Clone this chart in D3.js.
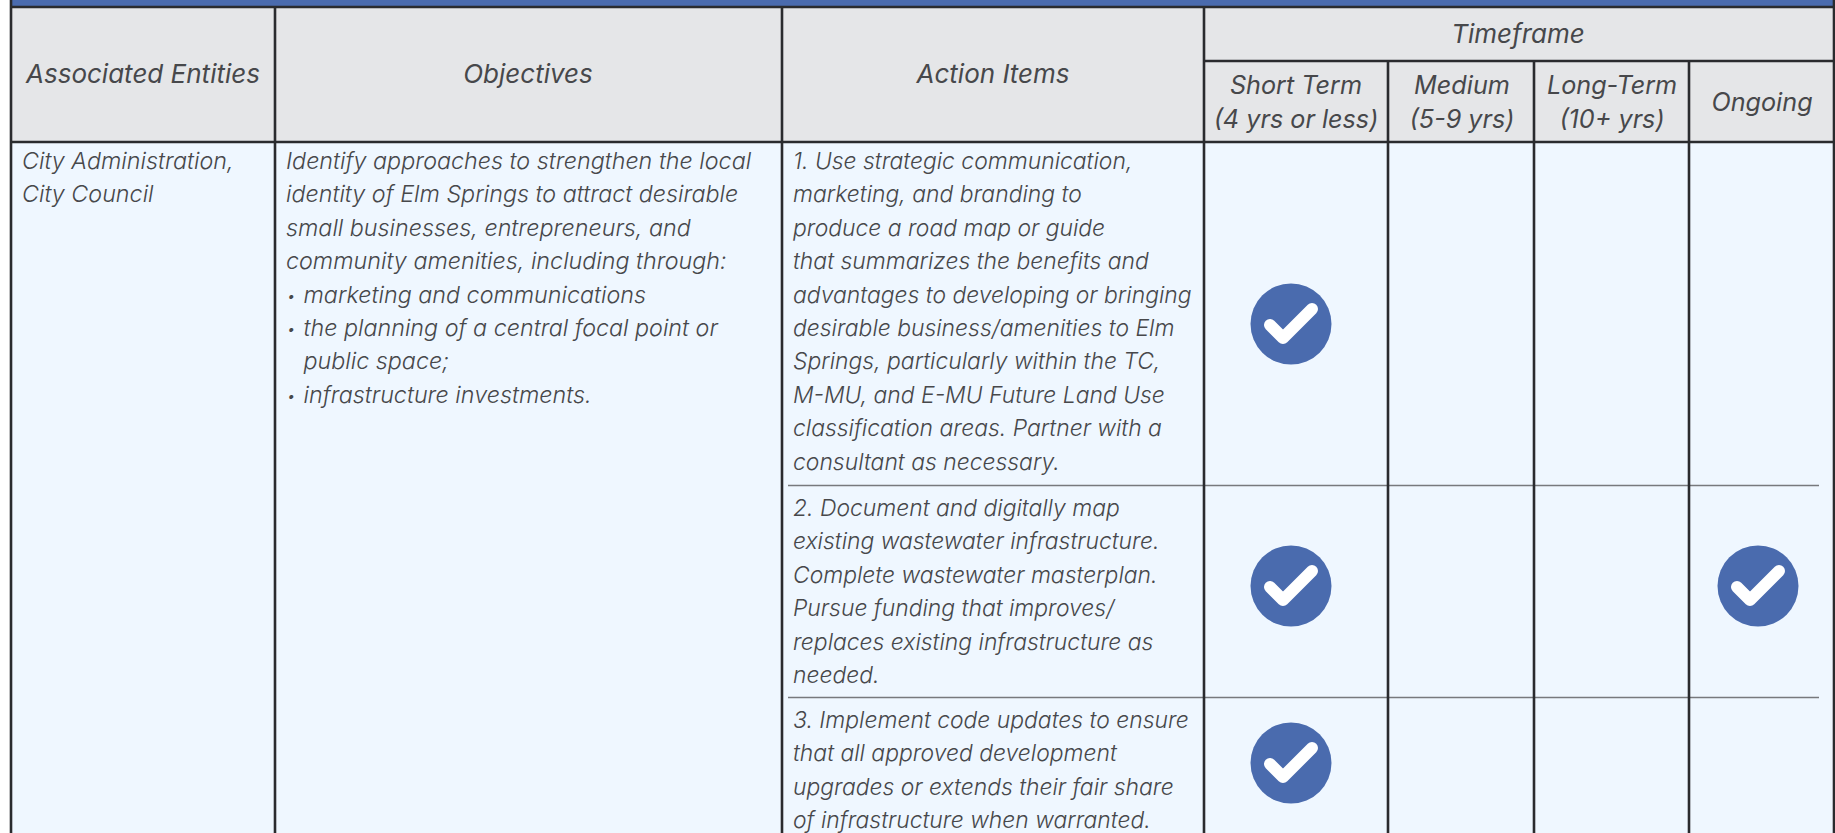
<!DOCTYPE html>
<html lang="en">
<head>
    <meta charset="UTF-8">
    <script src="https://cdn.jsdelivr.net/npm/d3@7"></script>
    <style>
        html,body{margin:0;padding:0;background:#fff;overflow:hidden;}
        svg{display:block;}
        text{font-family:Inter,Lato,sans-serif;font-style:italic;fill:#47484b;}
        .body-text{font-size:23.3px;font-weight:300;}
        .action-text{font-size:22.9px;}
        .bullet{font-size:15px;font-weight:300;}
        .head-text{font-size:26px;font-weight:400;}
        .time-text{font-size:25.2px;}
    </style>
    <title>Implementation table</title>
</head>
<body>
    <svg width="1835" height="833"></svg>
    <script>
        // table content
        var mainHeaders = ["Associated Entities", "Objectives", "Action Items"];
        var groupHeader = "Timeframe";
        var timeframes = ["short", "medium", "long", "ongoing"];
        var timeframeLabels = [["Short Term", "(4 yrs or less)"], ["Medium", "(5-9 yrs)"], ["Long-Term", "(10+ yrs)"], ["Ongoing"]];
        var entityLines = ["City Administration,", "City Council"];
        var objectiveLines = [
            "Identify approaches to strengthen the local",
            "identity of Elm Springs to attract desirable",
            "small businesses, entrepreneurs, and",
            "community amenities, including through:"
        ];
        var objectiveBullets = [
            ["marketing and communications"],
            ["the planning of a central focal point or", "public space;"],
            ["infrastructure investments."]
        ];
        var actionItems = [
            ["1. Use strategic communication,", "marketing, and branding to", "produce a road map or guide",
             "that summarizes the benefits and", "advantages to developing or bringing",
             "desirable business/amenities to Elm", "Springs, particularly within the TC,",
             "M-MU, and E-MU Future Land Use", "classification areas. Partner with a", "consultant as necessary."],
            ["2. Document and digitally map", "existing wastewater infrastructure.", "Complete wastewater masterplan.",
             "Pursue funding that improves/", "replaces existing infrastructure as", "needed."],
            ["3. Implement code updates to ensure", "that all approved development",
             "upgrades or extends their fair share", "of infrastructure when warranted."]
        ];
        var checks = [["short"], ["short", "ongoing"], ["short"]];

        var svg = d3.select("svg");
        var blue = "#4a6bae", dark = "#2a2b2e", headFill = "#e5e6e8", bodyFill = "#eff7ff", rule = "#77797d";

        var colEdges = [11, 275, 782, 1204, 1388, 1534, 1689, 1834];
        var tableTop = 7, subTop = 61, bodyTop = 142, bottom = 833;
        var rowEdges = [bodyTop, 485.5, 697.5, bottom];
        var lineH = 33.4;

        // scales for the timeframe columns and action rows
        var xTime = d3.scaleOrdinal().domain(timeframes).range([1291, 1458, 1608, 1758]);
        var xLabel = d3.scaleOrdinal().domain(timeframes).range([1296, 1462, 1612, 1762]);
        var yRow = d3.scaleOrdinal().domain([0, 1, 2]).range([324, 586, 763]);
        var yFirst = d3.scaleOrdinal().domain([0, 1, 2]).range([169, 516, 728]);

        // backgrounds
        svg.append("rect").attr("x", colEdges[0]).attr("y", 0).attr("width", 1835 - colEdges[0]).attr("height", tableTop).attr("fill", blue);
        svg.append("rect").attr("x", colEdges[0]).attr("y", tableTop).attr("width", 1835 - colEdges[0]).attr("height", bodyTop - tableTop).attr("fill", headFill);
        svg.append("rect").attr("x", colEdges[0]).attr("y", bodyTop).attr("width", 1835 - colEdges[0]).attr("height", bottom - bodyTop).attr("fill", bodyFill);

        // thin rules between action rows
        svg.selectAll(".row-rule").data(rowEdges.slice(1, 3)).enter().append("line")
            .attr("class", "row-rule")
            .attr("x1", 788).attr("x2", 1819)
            .attr("y1", function(d){return d;}).attr("y2", function(d){return d;})
            .attr("stroke", rule).attr("stroke-width", 1.3);

        // heavy grid lines
        function heavy(x1, y1, x2, y2){
            svg.append("line").attr("x1", x1).attr("y1", y1).attr("x2", x2).attr("y2", y2)
                .attr("stroke", dark).attr("stroke-width", 2.6);
        }
        heavy(colEdges[0], tableTop, 1835, tableTop);
        heavy(colEdges[0], bodyTop, 1835, bodyTop);
        heavy(colEdges[3], subTop, 1835, subTop);
        [0, 7].forEach(function(i){ heavy(colEdges[i], 0, colEdges[i], bottom); });
        [1, 2, 3].forEach(function(i){ heavy(colEdges[i], tableTop, colEdges[i], bottom); });
        [4, 5, 6].forEach(function(i){ heavy(colEdges[i], subTop, colEdges[i], bottom); });

        // headers
        var headX = [143, 528, 993];
        svg.selectAll(".main-head").data(mainHeaders).enter().append("text")
            .attr("class", "head-text main-head")
            .attr("text-anchor", "middle")
            .attr("x", function(d, i){return headX[i];})
            .attr("y", 83)
            .text(function(d){return d;});
        svg.append("text").attr("class", "head-text").attr("text-anchor", "middle")
            .attr("x", 1518).attr("y", 43).text(groupHeader);
        timeframes.forEach(function(t, i){
            var lines = timeframeLabels[i];
            lines.forEach(function(s, j){
                svg.append("text").attr("class", "head-text time-text").attr("text-anchor", "middle")
                    .attr("x", xLabel(t))
                    .attr("y", lines.length == 1 ? 111 : 94 + j * 34)
                    .text(s);
            });
        });

        // body text
        function block(lines, x, y, cls){
            lines.forEach(function(s, j){
                svg.append("text").attr("class", "body-text " + (cls || "")).attr("x", x).attr("y", y + j * lineH).text(s);
            });
        }
        block(entityLines, 22, 169);
        block(objectiveLines, 286, 169);
        var n = objectiveLines.length;
        objectiveBullets.forEach(function(lines){
            svg.append("text").attr("class", "bullet").attr("x", 287).attr("y", 167 + n * lineH).text("•");
            block(lines, 303.5, 169 + n * lineH);
            n += lines.length;
        });
        actionItems.forEach(function(lines, i){ block(lines, 793, yFirst(i), "action-text"); });

        // check marks
        checks.forEach(function(list, i){
            list.forEach(function(t){
                var g = svg.append("g").attr("transform", "translate(" + xTime(t) + "," + yRow(i) + ")");
                g.append("circle").attr("r", 40.5).attr("fill", blue);
                g.append("path").attr("d", "M-21,1 L-8,14 L21,-15")
                    .attr("fill", "none").attr("stroke", "#fff").attr("stroke-width", 12)
                    .attr("stroke-linecap", "round").attr("stroke-linejoin", "round");
            });
        });
    </script>
</body>
</html>
